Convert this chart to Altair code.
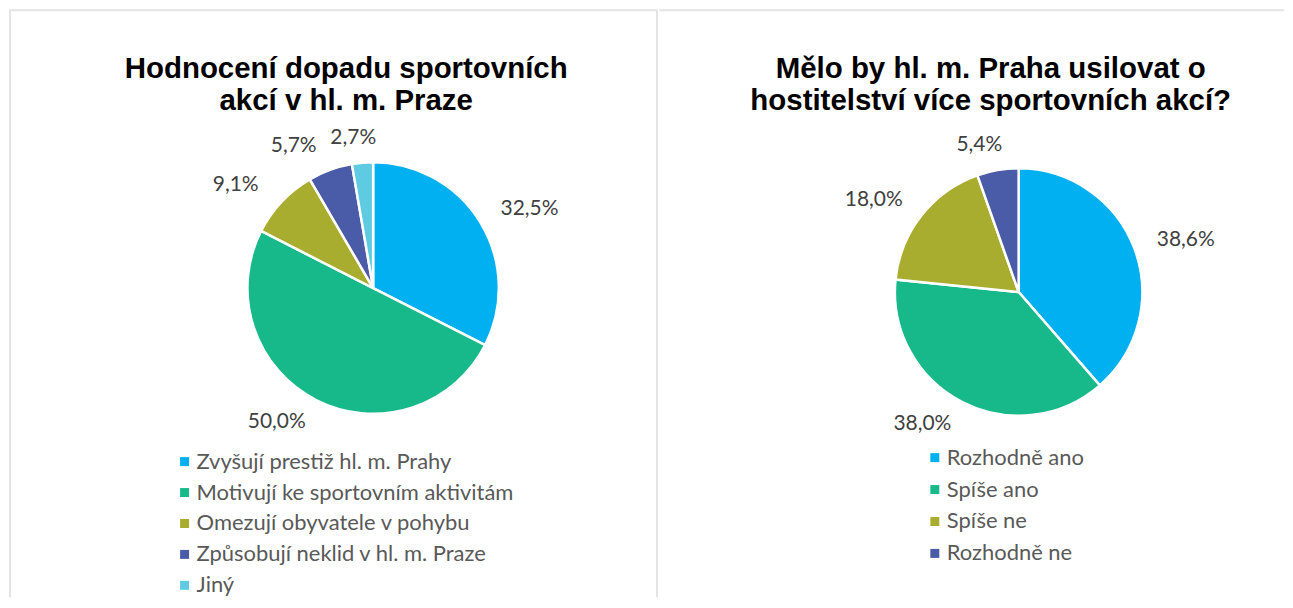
import altair as alt
import pandas as pd

# ---- data ----
left_title = ["Hodnocení dopadu sportovních", "akcí v hl. m. Praze"]
left_cats = ["Zvyšují prestiž hl. m. Prahy", "Motivují ke sportovním aktivitám",
             "Omezují obyvatele v pohybu", "Způsobují neklid v hl. m. Praze", "Jiný"]
left_vals = [32.5, 50.0, 9.1, 5.7, 2.7]
left_labels = ["32,5%", "50,0%", "9,1%", "5,7%", "2,7%"]

right_title = ["Mělo by hl. m. Praha usilovat o", "hostitelství více sportovních akcí?"]
right_cats = ["Rozhodně ano", "Spíše ano", "Spíše ne", "Rozhodně ne"]
right_vals = [38.6, 38.0, 18.0, 5.4]
right_labels = ["38,6%", "38,0%", "18,0%", "5,4%"]

palette = ["#00B0F0", "#17B98A", "#A9AD2F", "#4A5CA8", "#5ECBE3"]

LABEL_FONT = "Lato"
TITLE_FONT = "Liberation Sans"
BORDER = "#E4E4E4"


def panel(cats, vals, labels, colors, title_lines, W, H, cx, cy, R,
          legend_x, legend_y, row_pad, title_x, mid_border):
    df = pd.DataFrame({"cat": cats, "value": vals, "label": labels,
                       "idx": list(range(len(cats)))})
    pie = alt.Chart(df).mark_arc(outerRadius=R, stroke="white", strokeWidth=2.5).encode(
        theta=alt.Theta("value:Q", stack=True),
        order=alt.Order("idx:Q"),
        color=alt.Color(
            "cat:N",
            scale=alt.Scale(domain=cats, range=colors),
            sort=cats,
            legend=alt.Legend(
                orient="none", legendX=legend_x, legendY=legend_y, title=None,
                symbolType="square", symbolSize=81, symbolStrokeWidth=0,
                labelFont=LABEL_FONT, labelFontSize=22, labelColor="#595959",
                rowPadding=row_pad, padding=0, labelOffset=1, labelLimit=600,
            ),
        ),
        x=alt.value(cx), y=alt.value(cy),
    )
    # labels sit just outside the pie, pushed sideways by roughly half their width
    text = alt.Chart(df).transform_joinaggregate(
        total="sum(value)"
    ).transform_window(
        cum="sum(value)", sort=[alt.SortField("idx")]
    ).transform_calculate(
        mid="(datum.cum - datum.value / 2) / datum.total * 2 * PI"
    ).transform_calculate(
        ldx=f"({R} + 25) * sin(datum.mid) + 28 * (sin(datum.mid) < 0 ? -1 : 1)"
            " * min(1, 3 * abs(sin(datum.mid)))",
        ldy=f"-({R} + 25) * cos(datum.mid)",
    ).transform_calculate(
        lth="atan2(datum.ldx, -datum.ldy)",
        lr="sqrt(datum.ldx * datum.ldx + datum.ldy * datum.ldy)",
    ).mark_text(font=LABEL_FONT, fontSize=21, color="#404040").encode(
        theta=alt.Theta("lth:Q", scale=None),
        radius=alt.Radius("lr:Q", scale=None),
        text="label:N",
        x=alt.value(cx), y=alt.value(cy),
    )
    dummy = alt.Chart(pd.DataFrame({"t": [0]}))
    t1 = dummy.mark_text(font=TITLE_FONT, fontSize=29.5, fontWeight="bold",
                         color="#000000", baseline="alphabetic").encode(
        x=alt.value(title_x), y=alt.value(69), text=alt.value(title_lines[0]))
    t2 = dummy.mark_text(font=TITLE_FONT, fontSize=29.5, fontWeight="bold",
                         color="#000000", baseline="alphabetic").encode(
        x=alt.value(title_x), y=alt.value(102), text=alt.value(title_lines[1]))
    rules = [
        dummy.mark_rule(color=BORDER, strokeWidth=2).encode(
            x=alt.value(0), x2=alt.value(W), y=alt.value(1.5)),
    ]
    if mid_border:
        rules.append(dummy.mark_rule(color=BORDER, strokeWidth=2).encode(
            x=alt.value(1), y=alt.value(1), y2=alt.value(H)))
        rules.append(dummy.mark_rule(color=BORDER, strokeWidth=2).encode(
            x=alt.value(W - 0.5), y=alt.value(1), y2=alt.value(H)))
    return alt.layer(*rules, pie, text, t1, t2).properties(width=W, height=H)


left = panel(left_cats, left_vals, left_labels, palette, left_title,
             650, 590, 365, 280, 126, 165, 443, 9, 338, True)
right = panel(right_cats, right_vals, right_labels, palette[:4], right_title,
              626, 590, 360, 284, 124, 265, 439, 10, 332, False)

chart = alt.hconcat(left, right, spacing=0).resolve_scale(
    color="independent", theta="independent"
).configure_view(stroke=None).properties(padding=0)

chart.save("out.html", embed_options={"renderer": "svg", "actions": False})
